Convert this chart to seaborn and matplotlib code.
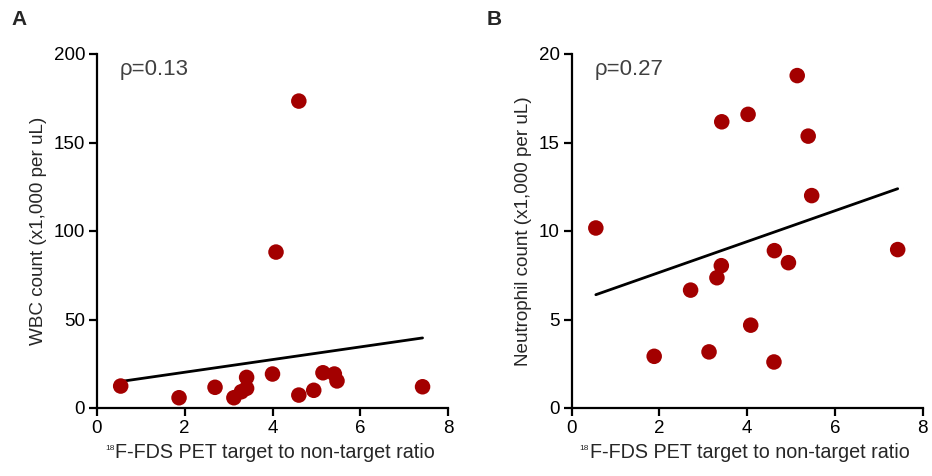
import numpy as np
import pandas as pd
import matplotlib
matplotlib.use("Agg")
import matplotlib.pyplot as plt
import seaborn as sns

# Data
ratio_a = [0.54, 1.87, 2.69, 3.12, 3.29, 3.41, 3.41, 4.00, 4.08, 4.60, 4.60, 4.94, 5.15, 5.41, 5.47, 7.42]
wbc     = [12.4, 5.8, 11.7, 5.8, 9.2, 11.1, 17.3, 19.2, 88.1, 7.3, 173.4, 10.0, 19.9, 19.2, 15.3, 12.0]

ratio_b    = [0.55, 1.88, 2.71, 3.13, 3.31, 3.41, 3.42, 4.02, 4.08, 4.61, 4.62, 4.94, 5.14, 5.39, 5.47, 7.43]
neutrophil = [10.17, 2.92, 6.66, 3.17, 7.36, 8.04, 16.17, 16.59, 4.68, 2.60, 8.89, 8.21, 18.78, 15.36, 12.0, 8.95]

rho_a = "ρ=0.13"
rho_b = "ρ=0.27"
xlabel_sup = "18"
xlabel = "F-FDS PET target to non-target ratio"
ylabel_a = "WBC count (x1,000 per uL)"
ylabel_b = "Neutrophil count (x1,000 per uL)"

sns.set_style("ticks")
plt.rcParams['font.family'] = ['Liberation Sans', 'DejaVu Sans']

fig = plt.figure(figsize=(9.32, 4.76), dpi=100)
ax_a = fig.add_axes([97/932, 1-408/476, 351/932, 354/476])
ax_b = fig.add_axes([571.7/932, 1-408/476, 351/932, 354/476])

dot_color = "#A30000"

def panel(ax, x, y, ylim, yticks, ylabel, rho, letter):
    df = pd.DataFrame({"x": x, "y": y})
    sns.regplot(data=df, x="x", y="y", ax=ax, ci=None, truncate=True,
                scatter_kws=dict(s=125, color=dot_color, edgecolor='none', alpha=1, zorder=3),
                line_kws=dict(color="black", lw=2, zorder=2))
    ax.set_xlim(0, 8)
    ax.set_ylim(*ylim)
    ax.set_xticks([0, 2, 4, 6, 8])
    ax.set_yticks(yticks)
    for s in ["left", "bottom"]:
        ax.spines[s].set_linewidth(1.6)
        ax.spines[s].set_color("black")
    sns.despine(ax=ax)
    ax.tick_params(width=1.6, length=6, labelsize=13.5, colors="black", pad=2.5)
    ax.set_xlabel(xlabel, fontsize=14.2, labelpad=4.3)
    ax.xaxis.label.set_x(0.507)
    ax.annotate(xlabel_sup, xy=(0, 1), xycoords=ax.xaxis.label,
                xytext=(-0.6, -1.8), textcoords="offset points",
                ha="right", va="top", fontsize=6)
    ax.set_ylabel(ylabel, fontsize=13.6, labelpad=5)
    ax.text(0.065, 0.985, rho, transform=ax.transAxes, fontsize=16, color="#404040",
            va="top", ha="left")
    ax.text(-0.243, 1.125, letter, transform=ax.transAxes, fontsize=15, fontweight="bold",
            va="top", ha="left")
    for c in ax.collections:
        c.set_clip_on(False)

panel(ax_a, ratio_a, wbc, (0, 200), [0, 50, 100, 150, 200], ylabel_a, rho_a, "A")
panel(ax_b, ratio_b, neutrophil, (0, 20), [0, 5, 10, 15, 20], ylabel_b, rho_b, "B")

fig.savefig("out.png", dpi=100)
